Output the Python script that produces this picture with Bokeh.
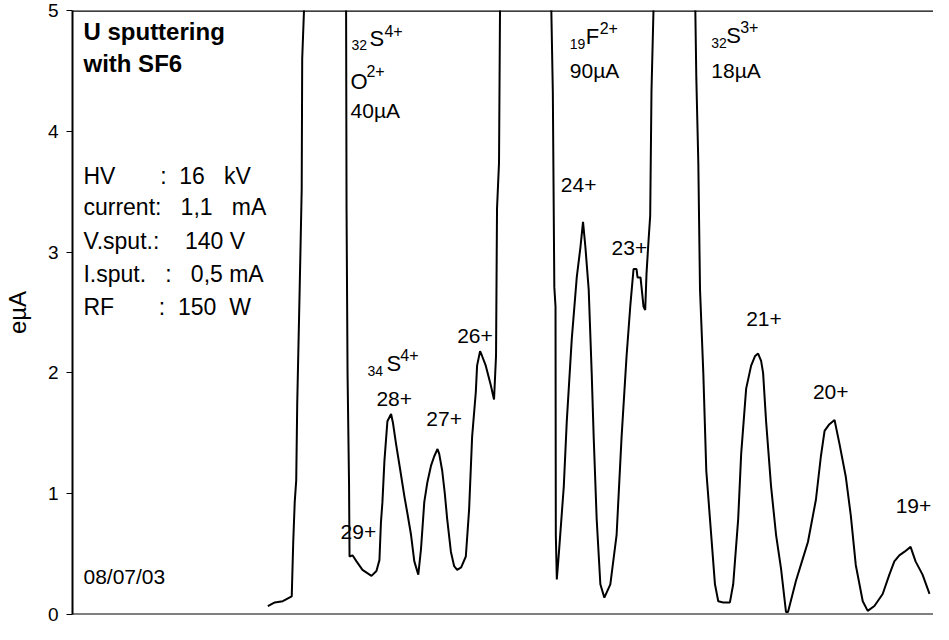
from bokeh.plotting import figure
from bokeh.models import Range1d, Label, Span, FixedTicker
from bokeh.embed import file_html
from bokeh.resources import INLINE

# ---- data (scan channel, beam current in eµA) ----
channel = [196, 203, 211, 220, 221.5, 223, 224.5, 225.5, 228, 230, 230.5, 232.3, 235, 253, 272,
           274.5, 275, 276, 277.5, 278, 281, 285, 291, 300, 305, 308, 309.5, 311, 313, 316,
           319.7, 321.5, 324.7, 329, 333, 336, 339.7, 343, 347, 349.7, 353, 356, 359.7, 363,
           366.3, 368, 371, 373.5, 376, 379.7, 383, 386, 390, 394.7, 398, 401, 404.7, 406, 409,
           411, 414.7, 419.7, 423, 425, 426, 428, 429, 432, 455, 478,
           480.5, 482, 483.5, 484.7, 485, 486, 488, 493, 496, 501, 506, 509.7, 512.3, 514.7,
           518, 521, 523, 526, 529.7, 533.7, 539.7, 546, 551, 556, 559.7, 563, 566, 567, 570,
           573, 574.7, 576, 578, 579.7, 581, 583, 586, 604, 622,
           625, 626, 628, 629.7, 633, 636, 639.7, 644.7, 648, 653, 659.7, 663, 668, 671, 676,
           681, 685, 688, 691, 693, 696, 701, 706, 711, 716, 718, 726, 732, 738, 746, 751,
           754.7, 759, 764.7, 769.7, 776, 781, 786, 793, 798, 804.7, 813, 819.7, 824.7, 829.7,
           835, 841, 846, 853, 860]
current = [0.07, 0.10, 0.11, 0.15, 0.60, 0.93, 1.11, 1.74, 2.71, 3.52, 4.60, 5.00, 8, 40, 8,
           5.2, 3.36, 2.00, 1.09, 0.48, 0.49, 0.44, 0.37, 0.32, 0.36, 0.45, 0.76, 0.93, 1.27, 1.60,
           1.66, 1.59, 1.41, 1.19, 0.98, 0.84, 0.66, 0.44, 0.33, 0.54, 0.93, 1.09, 1.23, 1.31,
           1.37, 1.33, 1.19, 1.01, 0.79, 0.52, 0.40, 0.37, 0.39, 0.48, 0.87, 1.47, 1.84, 2.06, 2.18,
           2.14, 2.06, 1.90, 1.78, 2.14, 3.36, 3.74, 5.00, 8, 90, 8,
           5.00, 4.33, 2.71, 2.55, 0.66, 0.29, 0.50, 1.06, 1.60, 2.28, 2.79, 3.04, 3.25, 3.04,
           2.69, 2.00, 1.47, 0.79, 0.25, 0.14, 0.25, 0.66, 1.47, 2.14, 2.55, 2.86, 2.86, 2.79, 2.79,
           2.55, 2.52, 2.82, 3.09, 3.30, 4.33, 5.00, 8, 18, 8,
           5.00, 4.44, 3.74, 2.69, 2.00, 1.19, 0.79, 0.25, 0.11, 0.10, 0.10, 0.25, 0.79, 1.33, 1.87,
           2.06, 2.14, 2.16, 2.10, 2.00, 1.60, 1.06, 0.66, 0.38, 0.02, 0.02, 0.28, 0.44, 0.60, 0.95, 1.31,
           1.52, 1.57, 1.61, 1.41, 1.14, 0.82, 0.41, 0.11, 0.03, 0.07, 0.17, 0.33, 0.44, 0.49,
           0.52, 0.56, 0.44, 0.33, 0.17]

y_ticks = [0, 1, 2, 3, 4, 5]

title_lines = ["U sputtering", "with SF6"]
title_y = [4.830, 4.558]

NB = "\u00a0"
param_lines = ["HV" + NB * 7 + ":" + NB * 2 + "16" + NB * 3 + "kV",
               "current:" + NB * 3 + "1,1" + NB * 3 + "mA",
               "V.sput.:" + NB * 4 + "140" + NB + "V",
               "I.sput." + NB * 3 + ":" + NB * 3 + "0,5" + NB + "mA",
               "RF" + NB * 7 + ":" + NB * 2 + "150" + NB * 2 + "W"]
param_y = [3.632, 3.373, 3.088, 2.821, 2.545]

date_text = "08/07/03"
date_y = 0.313

peak_labels = ["24+", "23+", "21+", "20+", "19+", "26+", "28+", "27+", "29+",
               "40µA", "90µA", "18µA"]
peak_x = [490, 541, 676, 743, 826, 386, 305, 355, 269, 279, 499, 641]
peak_y = [3.559, 3.032, 2.447, 1.838, 0.897, 2.309, 1.782, 1.619, 0.682, 4.172, 4.501, 4.501]

elem_text = ["S", "O", "F", "S", "S"]
elem_x = [298, 279, 515, 656, 315]
elem_y = [4.769, 4.412, 4.781, 4.793, 2.078]

mass_text = ["32", "19", "32", "34"]
mass_x = [280, 499, 641, 296]
mass_y = [4.712, 4.724, 4.732, 2.013]

charge_text = ["4+", "2+", "2+", "3+", "4+"]
charge_x = [313, 295, 529, 670, 329]
charge_y = [4.834, 4.497, 4.854, 4.862, 2.151]

FONT = "Liberation Sans"

p = figure(width=933, height=624, output_backend="svg", toolbar_location=None,
           x_range=Range1d(0, 864), y_range=Range1d(0, 5),
           min_border_left=69, min_border_right=0, min_border_top=10, min_border_bottom=10)
p.xaxis.visible = False
p.grid.visible = False
p.outline_line_color = None
p.background_fill_color = "white"
p.border_fill_color = "white"

ya = p.yaxis[0]
ya.ticker = FixedTicker(ticks=y_ticks)
ya.minor_tick_line_color = None
ya.major_tick_in = 0
ya.major_tick_out = 6
ya.major_tick_line_width = 1
ya.axis_line_width = 2
ya.axis_line_color = "black"
ya.major_label_text_font = FONT
ya.major_label_text_font_size = "19px"
ya.major_label_text_color = "black"
ya.major_label_standoff = 8
ya.axis_label = "eµA"
ya.axis_label_text_font = FONT
ya.axis_label_text_font_size = "24px"
ya.axis_label_text_font_style = "normal"
ya.axis_label_text_color = "black"
ya.axis_label_standoff = 14

p.add_layout(Span(location=0, dimension="width", line_color="black", line_width=2))
p.add_layout(Span(location=5, dimension="width", line_color="black", line_width=2.5))

p.line(channel, current, line_color="black", line_width=2)


def lab(x, y, t, size, style="normal"):
    p.add_layout(Label(x=x, y=y, text=t, text_font=FONT, text_font_size=size,
                       text_font_style=style, text_color="black",
                       text_baseline="middle", text_align="left"))


for t, y in zip(title_lines, title_y):
    lab(11, y, t, "24px", "bold")
for t, y in zip(param_lines, param_y):
    lab(11, y, t, "23px")
lab(11, date_y, date_text, "21px")
for t, x, y in zip(peak_labels, peak_x, peak_y):
    lab(x, y, t, "21px")
for t, x, y in zip(elem_text, elem_x, elem_y):
    lab(x, y, t, "22px")
for t, x, y in zip(mass_text, mass_x, mass_y):
    lab(x, y, t, "14px")
for t, x, y in zip(charge_text, charge_x, charge_y):
    lab(x, y, t, "16px")

open("out.html", "w").write(file_html(p, INLINE))
